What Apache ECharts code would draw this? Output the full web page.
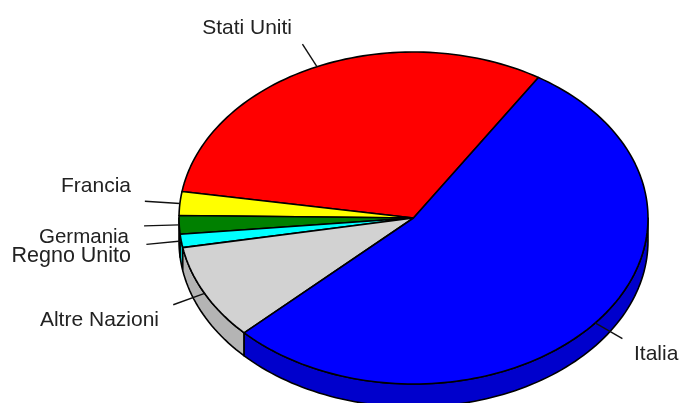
<!DOCTYPE html>
<html>
<head>
<meta charset="utf-8">
<style>html,body{margin:0;padding:0;background:#fff}#c{width:680px;height:403px}</style>
<script src="https://cdn.jsdelivr.net/npm/echarts@6/dist/echarts.min.js"></script>
</head>
<body>
<div id="c"></div>
<script>
const categories = ['Stati Uniti','Francia','Germania','Regno Unito','Altre Nazioni','Italia'];
const values = [31.4, 2.3, 1.8, 1.3, 9.3, 53.9];
const topColors = ['#ff0000','#ffff00','#008000','#00ffff','#d2d2d2','#0000ff'];
const sideColors = ['#cc0000','#cccc00','#006600','#00cccc','#b4b4b4','#0000cc'];
// label anchors (edge and vertical middle of each text) and font sizes
const labelAnchors = [[292,28,'right'],[131,186,'right'],[129,237,'right'],[131,256,'right'],[159,320,'right'],[634,354,'left']];
const labelSizes = [21,21,20.5,21.5,21,21];

const cx = 413.5, cy = 218, rx = 234.5, ry = 166, depth = 23, startDeg = 57.8, leader = 1.15;
const total = values.reduce((a,b)=>a+b,0);
const pt = (deg, k=1, dy=0) => {
  const a = deg*Math.PI/180;
  return [cx + rx*k*Math.cos(a), cy - ry*k*Math.sin(a) + dy];
};
const arc = (a0, a1, dy=0) => {
  const n = Math.max(2, Math.ceil(Math.abs(a1-a0)/1.5)), out = [];
  for (let i=0;i<=n;i++) out.push(pt(a0+(a1-a0)*i/n,1,dy));
  return out;
};
const chart = echarts.init(document.getElementById('c'), null, {renderer:'canvas'});
chart.setOption({
  backgroundColor:'#fff',
  animation:false,
  series:[{
    type:'custom',
    coordinateSystem:'none',
    silent:true,
    animation:false,
    data: values.map(v=>[v]),
    encode:{value:0},
    renderItem(params, api){
      const i = params.dataIndex;
      let before = 0;
      for (let j=0;j<i;j++) before += values[j];
      const a0 = startDeg + before/total*360;
      const a1 = a0 + api.value(0)/total*360;
      const mid = (a0+a1)/2;
      const children = [];
      // visible front wall: part of the arc between 180 and 360 degrees
      const s0 = Math.max(a0,180), s1 = Math.min(a1,360);
      const lineStyle = {stroke:'#000',lineWidth:1.6,lineJoin:'round'};
      if (s1 > s0) {
        const up = arc(s0,s1), down = arc(s1,s0,depth);
        children.push({type:'polygon',shape:{points:up.concat(down)},
          style:Object.assign({fill:sideColors[i]},lineStyle)});
      }
      children.push({type:'polygon',shape:{points:[[cx,cy]].concat(arc(a0,a1))},
        style:Object.assign({fill:topColors[i]},lineStyle)});
      const p0 = pt(mid), p1 = pt(mid,leader);
      children.push({type:'line',shape:{x1:p0[0],y1:p0[1],x2:p1[0],y2:p1[1]},
        style:{stroke:'#111',lineWidth:1.4}});
      const la = labelAnchors[i];
      children.push({type:'text',style:{
        text:categories[i],x:la[0],y:la[1],align:la[2],verticalAlign:'middle',
        fill:'#222',font:labelSizes[i]+'px "Liberation Sans", Arial, sans-serif',
        backgroundColor:'#fff',padding:[3,0,0,0]
      }});
      return {type:'group',children};
    }
  }]
});
</script>
</body>
</html>
